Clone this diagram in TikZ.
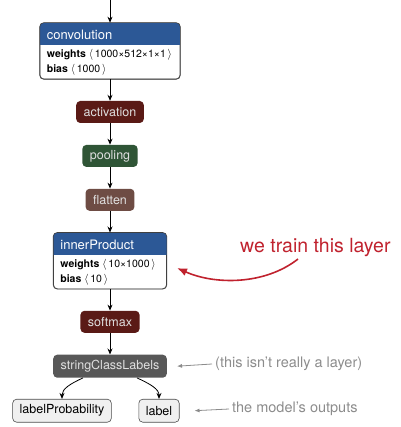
\documentclass[tikz,border=0pt]{standalone}
\usepackage{fontspec}
\setmainfont{TeX Gyre Heros}
\usetikzlibrary{arrows.meta,positioning}
\definecolor{headblue}{RGB}{44,88,150}
\definecolor{actred}{RGB}{90,26,22}
\definecolor{poolgreen}{RGB}{47,85,54}
\definecolor{flatbrown}{RGB}{110,76,68}
\definecolor{labelgray}{RGB}{88,88,88}
\definecolor{trainred}{RGB}{192,34,46}

\begin{document}
\begin{tikzpicture}[x=1pt,y=-1pt,
  node distance=21.5pt,
  flow/.style={-{Stealth[length=6pt,width=5pt]},line width=0.8pt},
  layer/.style={rounded corners=4pt,minimum height=22pt,inner xsep=7.5pt,inner ysep=0pt,
    text=white!88!black,font=\fontsize{12.5}{14}\selectfont},
  panel/.style={draw=black!75,fill=white,rounded corners=4pt,line width=0.6pt,inner sep=0pt},
  headtext/.style={anchor=west,inner sep=0pt,text=white,font=\fontsize{13}{15}\selectfont},
  paramtext/.style={anchor=west,inner sep=0pt,font=\fontsize{10.5}{12}\selectfont},
  output/.style={draw=black!70,fill=black!6,rounded corners=4pt,line width=0.6pt,
    minimum height=23pt,inner xsep=7pt,inner ysep=0pt,font=\fontsize{12.5}{14}\selectfont},
  note/.style={anchor=west,inner xsep=3pt,text=black!45,font=\fontsize{14.5}{16}\selectfont},
  notearrow/.style={-{Latex[length=5pt,width=4pt]},draw=black!45,line width=0.8pt}]
\useasboundingbox (0,0) rectangle (400,427);
\newcommand{\dimset}[1]{\;$\langle\,$#1$\,\rangle$}

% convolution block
\coordinate (top) at (110,0);
\node[panel,minimum width=140pt,minimum height=56pt] (conv) at (110,51) {};
\begin{scope}
\clip[rounded corners=4pt] (conv.south west) rectangle (conv.north east);
\fill[headblue] (conv.north west) rectangle ([yshift=-22pt]conv.north east);
\end{scope}
\draw[black!75,rounded corners=4pt,line width=0.6pt] (conv.south west) rectangle (conv.north east);
\node[headtext] (convname) at ([xshift=7pt,yshift=-12pt]conv.north west) {convolution};
\node[paramtext] (convw) at ([xshift=7pt,yshift=-32pt]conv.north west) {\textbf{weights}\dimset{1000×512×1×1}};
\node[paramtext] (convb) at ([xshift=7pt,yshift=-47pt]conv.north west) {\textbf{bias}\dimset{1000}};

% simple layers
\node[layer,fill=actred,below=of conv] (act) {activation};
\node[layer,fill=poolgreen,below=of act] (pool) {pooling};
\node[layer,fill=flatbrown,below=of pool] (flat) {flatten};

% inner product block
\node[panel,minimum width=113pt,minimum height=56pt,below=of flat] (inner) {};
\begin{scope}
\clip[rounded corners=4pt] (inner.south west) rectangle (inner.north east);
\fill[headblue] (inner.north west) rectangle ([yshift=-22pt]inner.north east);
\end{scope}
\draw[black!75,rounded corners=4pt,line width=0.6pt] (inner.south west) rectangle (inner.north east);
\node[headtext] (innername) at ([xshift=7pt,yshift=-12pt]inner.north west) {innerProduct};
\node[paramtext] (innerw) at ([xshift=7pt,yshift=-32pt]inner.north west) {\textbf{weights}\dimset{10×1000}};
\node[paramtext] (innerb) at ([xshift=7pt,yshift=-47pt]inner.north west) {\textbf{bias}\dimset{10}};

\node[layer,fill=actred,below=of inner] (soft) {softmax};
\node[layer,fill=labelgray,minimum height=23pt,below=of soft] (scl) {stringClassLabels};

% outputs
\node[output,below=21pt of scl,xshift=-48pt] (prob) {labelProbability};
\node[output,below=21pt of scl,xshift=49pt] (lab) {label};

\draw[flow] (top) -- (conv.north);
\draw[flow] (conv) -- (act);
\draw[flow] (act) -- (pool);
\draw[flow] (pool) -- (flat);
\draw[flow] (flat) -- (inner);
\draw[flow] (inner) -- (soft);
\draw[flow] (soft) -- (scl);
\draw[flow] ([xshift=-27pt]scl.south) .. controls +(-13,6) and +(0,-10) .. (prob.north);
\draw[flow] ([xshift=27pt]scl.south) .. controls +(13,6) and +(0,-10) .. (lab.north);

% annotations
\node[anchor=base west,inner sep=0pt,text=trainred,font=\fontsize{19.5}{22}\selectfont] (train) at (240,252) {we train this layer};
\coordinate (trainfrom) at (298,259);
\coordinate (trainto) at (177,268);
\draw[-{Latex[length=10pt,width=8pt]},trainred,line width=1.6pt] (trainfrom) .. controls (265,285) and (215,285) .. (trainto);

\node[note] (notscl) at (212,364) {(this isn’t really a layer)};
\draw[notearrow] (notscl.west) -- ([xshift=10pt]scl.east);
\node[note] (notout) at (229,409) {the model’s outputs};
\draw[notearrow] (notout.west) -- ([xshift=15pt]lab.east);
\end{tikzpicture}
\end{document}
